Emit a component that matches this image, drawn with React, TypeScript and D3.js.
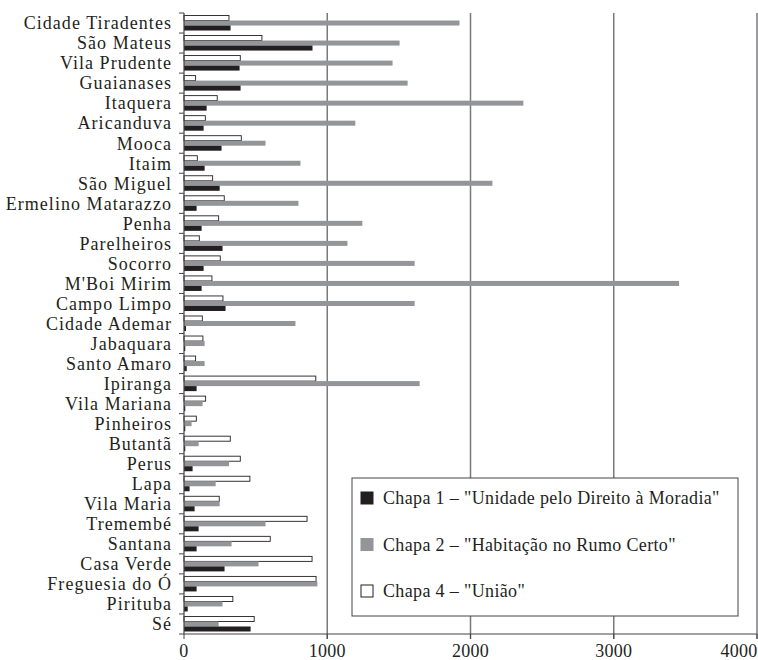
import React from "react";
import * as d3 from "d3";

const categories = [
  "Cidade Tiradentes", "São Mateus", "Vila Prudente", "Guaianases", "Itaquera",
  "Aricanduva", "Mooca", "Itaim", "São Miguel", "Ermelino Matarazzo", "Penha",
  "Parelheiros", "Socorro", "M'Boi Mirim", "Campo Limpo", "Cidade Ademar",
  "Jabaquara", "Santo Amaro", "Ipiranga", "Vila Mariana", "Pinheiros", "Butantã",
  "Perus", "Lapa", "Vila Maria", "Tremembé", "Santana", "Casa Verde",
  "Freguesia do Ó", "Pirituba", "Sé",
];

const chapa1 = [325, 897, 388, 395, 158, 137, 262, 144, 249, 88, 123, 269, 137, 123, 290, 14, 9, 19, 88, 9, 9, 9, 60, 39, 74, 102, 88, 283, 88, 26, 465];
const chapa2 = [1923, 1505, 1456, 1561, 2369, 1196, 569, 813, 2153, 799, 1245, 1141, 1610, 3456, 1610, 778, 144, 144, 1645, 130, 53, 102, 314, 221, 249, 569, 332, 520, 931, 269, 242];
const chapa4 = [314, 544, 393, 81, 232, 149, 400, 93, 200, 281, 242, 107, 253, 195, 272, 128, 132, 81, 920, 151, 86, 323, 393, 460, 246, 859, 602, 894, 922, 341, 490];

const xTicks = [0, 1000, 2000, 3000, 4000];
const seriesNames = [
  'Chapa 1 – "Unidade pelo Direito à Moradia"',
  'Chapa 2 – "Habitação no Rumo Certo"',
  'Chapa 4 – "União"',
];

const W = 758, H = 660;
const left = 184, right = 757, top = 13, bottom = 634;
const FONT = '"Liberation Serif", "DejaVu Serif", "Times New Roman", serif';
const BLACK = "#231f20";
const GRAY = "#939598";

export default function App() {
  const x = d3.scaleLinear().domain([0, 4000]).range([left, right]);
  const y = d3.scaleBand<string>().domain(categories).range([top, bottom]);
  const bw = y.bandwidth();
  const barH = bw * 0.25;
  const inner = d3.scaleBand<string>().domain(["c4", "c2", "c1"]).range([bw * 0.125, bw * 0.875]);

  const series = [
    { key: "c4", values: chapa4, fill: "#ffffff", stroke: BLACK },
    { key: "c2", values: chapa2, fill: GRAY, stroke: "none" },
    { key: "c1", values: chapa1, fill: BLACK, stroke: "none" },
  ];

  const legendItems = [
    { name: seriesNames[0], fill: BLACK, stroke: BLACK },
    { name: seriesNames[1], fill: GRAY, stroke: GRAY },
    { name: seriesNames[2], fill: "#ffffff", stroke: BLACK },
  ];

  const boundaries = d3.range(categories.length + 1).map((i) => top + i * y.step());
  const catStyle = { fontFamily: FONT, letterSpacing: "1.05px" };
  const tickStyle = { fontFamily: FONT, letterSpacing: "0.3px" };
  const legStyle = { fontFamily: FONT, letterSpacing: "0.35px" };

  return (
    <svg width={W} height={H} style={{ position: "absolute", left: 0, top: 0, background: "#fff", fontFamily: FONT }}>
      {xTicks.slice(1).map((t) => (
        <line key={"g" + t} x1={x(t)} x2={x(t)} y1={top} y2={bottom + 5} stroke="#7a7a7c" strokeWidth={1.5} />
      ))}
      {series.map((s) =>
        categories.map((c, i) => (
          <rect
            key={s.key + c}
            x={x(0)}
            y={(y(c) as number) + (inner(s.key) as number) + (inner.bandwidth() - barH) / 2}
            width={x(s.values[i]) - x(0)}
            height={barH}
            fill={s.fill}
            stroke={s.stroke}
            strokeWidth={s.stroke === "none" ? 0 : 0.9}
          />
        ))
      )}
      <line x1={left} x2={left} y1={top} y2={bottom} stroke="#444" strokeWidth={1.2} />
      {boundaries.map((b, i) => (
        <line key={"t" + i} x1={left - 5} x2={left} y1={b} y2={b} stroke="#444" strokeWidth={1} />
      ))}
      {categories.map((c) => (
        <text key={"l" + c} x={left - 12} y={(y(c) as number) + bw / 2} dy="0.35em" textAnchor="end" fontSize={18} fill="#231f20" style={catStyle}>
          {c}
        </text>
      ))}
      <line x1={left} x2={right} y1={bottom} y2={bottom} stroke="#444" strokeWidth={1.2} />
      {xTicks.map((t) => (
        <g key={"x" + t}>
          <line x1={x(t)} x2={x(t)} y1={bottom} y2={bottom + 5} stroke="#444" strokeWidth={1} />
          <text x={Math.min(x(t), W - 19)} y={657} textAnchor="middle" fontSize={18} fill="#231f20" style={tickStyle}>
            {t}
          </text>
        </g>
      ))}
      <rect x={352} y={478} width={386} height={138} fill="#fff" stroke="#444" strokeWidth={1} />
      {legendItems.map((it, i) => {
        const cy = 498 + i * 46.5;
        return (
          <g key={"lg" + i}>
            <rect x={361} y={cy - 6} width={12} height={12} fill={it.fill} stroke={it.stroke} strokeWidth={1} />
            <text x={383} y={cy} dy="0.35em" fontSize={18} fill="#231f20" style={legStyle}>
              {it.name}
            </text>
          </g>
        );
      })}
    </svg>
  );
}
